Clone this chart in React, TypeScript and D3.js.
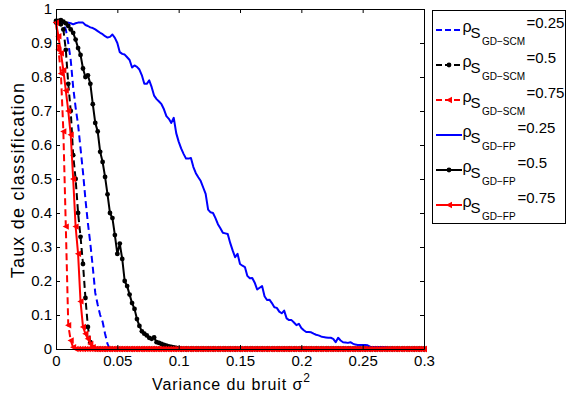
import React, { useEffect, useRef } from "react";
import * as d3 from "d3";

// noise variance grid, one sample every 0.002 from 0 to 0.3
const sigma2 = d3.range(0, 151).map((i) => +(i * 0.002).toFixed(3));

// classification rates; after the last value each curve sits at 0 up to 0.3
const scm025 = [0.965, 0.965, 0.96, 0.955, 0.94, 0.9, 0.85, 0.77, 0.71, 0.66, 0.59, 0.52, 0.44, 0.37, 0.31, 0.24, 0.165, 0.13, 0.1, 0.08, 0.045, 0.015, 0];
const scm05 = [0.965, 0.96, 0.955, 0.94, 0.88, 0.78, 0.7, 0.57, 0.5, 0.4, 0.33, 0.25, 0.15, 0.065, 0.02, 0.005, 0];
const scm075 = [0.96, 0.88, 0.81, 0.64, 0.36, 0.07, 0.025, 0.005, 0];
const fp025 = [
  0.965, 0.966, 0.965, 0.96, 0.958, 0.96, 0.958, 0.955, 0.958, 0.96,
  0.96, 0.96, 0.953, 0.95, 0.946, 0.944, 0.94, 0.935, 0.93, 0.926,
  0.92, 0.916, 0.918, 0.925, 0.915, 0.9, 0.873, 0.868, 0.866, 0.858,
  0.85, 0.828, 0.834, 0.83, 0.822, 0.805, 0.78, 0.78, 0.79, 0.77,
  0.745, 0.735, 0.728, 0.72, 0.705, 0.685, 0.677, 0.665, 0.68, 0.635,
  0.61, 0.59, 0.574, 0.56, 0.56, 0.562, 0.535, 0.517, 0.505, 0.494,
  0.475, 0.456, 0.41, 0.402, 0.4, 0.385, 0.367, 0.355, 0.342, 0.34,
  0.338, 0.312, 0.29, 0.27, 0.28, 0.25, 0.245, 0.241, 0.215, 0.208,
  0.209, 0.195, 0.175, 0.18, 0.185, 0.155, 0.144, 0.145, 0.135, 0.123,
  0.121, 0.11, 0.105, 0.113, 0.09, 0.085, 0.085, 0.078, 0.07, 0.074,
  0.062, 0.055, 0.05, 0.05, 0.049, 0.045, 0.042, 0.04, 0.037, 0.035,
  0.034, 0.033, 0.033, 0.03, 0.02, 0.033, 0.025, 0.02, 0.019, 0.018,
  0.02, 0.016, 0.013, 0.012, 0.012, 0.012, 0.012, 0.011, 0.007, 0.006,
  0.006, 0.006, 0.006, 0.006, 0.005, 0.004, 0.004, 0.003, 0.002, 0.001, 0,
];
const fp05 = [
  0.96, 0.965, 0.967, 0.963, 0.958, 0.95, 0.94, 0.93, 0.91, 0.885,
  0.865, 0.825, 0.8, 0.805, 0.78, 0.72, 0.665, 0.64, 0.58, 0.55,
  0.506, 0.455, 0.4, 0.385, 0.335, 0.28, 0.31, 0.265, 0.2, 0.185,
  0.16, 0.135, 0.118, 0.088, 0.068, 0.052, 0.045, 0.04, 0.033, 0.03,
  0.034, 0.02, 0.018, 0.015, 0.012, 0.01, 0.008, 0.006, 0.005, 0.003,
  0.001, 0,
];
const fp075 = [0.96, 0.92, 0.87, 0.82, 0.76, 0.7, 0.63, 0.5, 0.36, 0.28, 0.14, 0.065, 0.045, 0.03, 0.015, 0.005, 0];

const xTicks = [0, 0.05, 0.1, 0.15, 0.2, 0.25, 0.3];
const yTicks = [0, 0.1, 0.2, 0.3, 0.4, 0.5, 0.6, 0.7, 0.8, 0.9, 1];
const methods = ["GD\u2212SCM", "GD\u2212SCM", "GD\u2212SCM", "GD\u2212FP", "GD\u2212FP", "GD\u2212FP"];
const rhoValues = ["0.25", "0.5", "0.75", "0.25", "0.5", "0.75"];

const FONT = "'Liberation Sans', Arial, Helvetica, sans-serif";

// fill the flat zero plateau after the read values
const withTail = (vals: number[]) => sigma2.map((_, i) => (i < vals.length ? vals[i] : 0));

const series = [
  { values: withTail(scm025), color: "#0000ff", dashed: true, marker: "none" },
  { values: withTail(scm05), color: "#000000", dashed: true, marker: "dot" },
  { values: withTail(scm075), color: "#ff0000", dashed: true, marker: "tri" },
  { values: withTail(fp025), color: "#0000ff", dashed: false, marker: "none" },
  { values: withTail(fp05), color: "#000000", dashed: false, marker: "dot" },
  { values: withTail(fp075), color: "#ff0000", dashed: false, marker: "tri" },
];

export default function App() {
  const svgRef = useRef<SVGSVGElement | null>(null);

  useEffect(() => {
    const svg = d3.select(svgRef.current);
    svg.selectAll("*").remove();

    const width = 567;
    const height = 400;
    const margin = { top: 9, right: 143, bottom: 51, left: 56 };

    svg.append("rect").attr("width", width).attr("height", height).attr("fill", "#fff");

    const x = d3.scaleLinear().domain([0, 0.3]).range([margin.left, width - margin.right]);
    const y = d3.scaleLinear().domain([0, 1]).range([height - margin.bottom, margin.top]);

    const drawMarker = (g: any, kind: string, color: string, cx: number, cy: number) => {
      if (kind === "dot") {
        g.append("circle").attr("cx", cx).attr("cy", cy).attr("r", 2.4).attr("fill", color);
      } else if (kind === "tri") {
        g.append("path")
          .attr("d", `M${cx - 3.2},${cy}L${cx + 3},${cy - 3.2}L${cx + 3},${cy + 3.2}Z`)
          .attr("fill", color);
      }
    };

    //curves
    const line = d3.line<number>().x((_, i) => x(sigma2[i])).y((d) => y(d));
    series.forEach((s) => {
      const g = svg.append("g");
      g.append("path")
        .attr("d", line(s.values))
        .attr("fill", "none")
        .attr("stroke", s.color)
        .attr("stroke-width", 2)
        .attr("stroke-linejoin", "round")
        .attr("stroke-dasharray", s.dashed ? "7,4" : null);
      if (s.marker !== "none") {
        s.values.forEach((v, i) => drawMarker(g, s.marker, s.color, x(sigma2[i]), y(v)));
      }
    });

    //axes, ticks pointing inwards on all four sides
    const styleAxis = (g: any) => {
      g.attr("font-family", FONT).attr("font-size", 15);
      g.selectAll("path").attr("stroke", "#000");
      g.selectAll("line").attr("stroke", "#000");
      g.selectAll("text").attr("fill", "#000");
    };
    svg.append("g")
      .attr("transform", `translate(0,${y(0)})`)
      .call(d3.axisBottom(x).tickValues(xTicks).tickFormat((d: any) => String(d)).tickSizeInner(-4).tickSizeOuter(0).tickPadding(6))
      .call(styleAxis);
    svg.append("g")
      .attr("transform", `translate(${x(0)},0)`)
      .call(d3.axisLeft(y).tickValues(yTicks).tickFormat((d: any) => String(d)).tickSizeInner(-4).tickSizeOuter(0).tickPadding(4))
      .call(styleAxis);
    svg.append("g")
      .attr("transform", `translate(0,${y(1)})`)
      .call(d3.axisTop(x).tickValues(xTicks).tickFormat(() => "").tickSizeInner(-4).tickSizeOuter(0))
      .call(styleAxis);
    svg.append("g")
      .attr("transform", `translate(${x(0.3)},0)`)
      .call(d3.axisRight(y).tickValues(yTicks).tickFormat(() => "").tickSizeInner(-4).tickSizeOuter(0))
      .call(styleAxis);

    //axis titles
    const xt = svg.append("text")
      .attr("x", 152)
      .attr("y", 390)
      .attr("font-family", FONT)
      .attr("font-size", 16)
      .attr("letter-spacing", 0.9)
      .attr("fill", "#000")
      .text("Variance du bruit \u03c3");
    xt.append("tspan").attr("font-size", 12).attr("dy", -8).text("2");

    svg.append("text")
      .attr("transform", "translate(24,180) rotate(-90)")
      .attr("text-anchor", "middle")
      .attr("font-family", FONT)
      .attr("font-size", 18)
      .attr("letter-spacing", 1.2)
      .attr("fill", "#000")
      .text("Taux de classification");

    //legend
    const lg = svg.append("g").attr("font-family", FONT).attr("fill", "#000");
    lg.append("rect")
      .attr("x", 432.5).attr("y", 10.5).attr("width", 133).attr("height", 213)
      .attr("fill", "#fff").attr("stroke", "#000").attr("stroke-width", 1);
    series.forEach((s, i) => {
      const ry = 30 + i * 35;
      lg.append("line")
        .attr("x1", 436).attr("x2", 462).attr("y1", ry).attr("y2", ry)
        .attr("stroke", s.color).attr("stroke-width", 2)
        .attr("stroke-dasharray", s.dashed ? "6,3" : null);
      drawMarker(lg, s.marker, s.color, 449, ry);
      lg.append("text").attr("x", 462.5).attr("y", ry + 2).attr("font-size", 16).text("\u03c1");
      lg.append("text").attr("x", 470.5).attr("y", ry + 7.5).attr("font-size", 15).text("S");
      lg.append("text").attr("x", 482).attr("y", ry + 15).attr("font-size", 10).text(methods[i]);
      lg.append("text")
        .attr("x", s.dashed ? 526.5 : 517.5).attr("y", ry - 2)
        .attr("font-size", 15)
        .text("=" + rhoValues[i]);
    });
  }, []);

  return (
    <div>
      {/* chart */}
      <svg ref={svgRef} width={567} height={400} style={{ position: "absolute", left: 0, top: 0 }}></svg>
    </div>
  );
}
